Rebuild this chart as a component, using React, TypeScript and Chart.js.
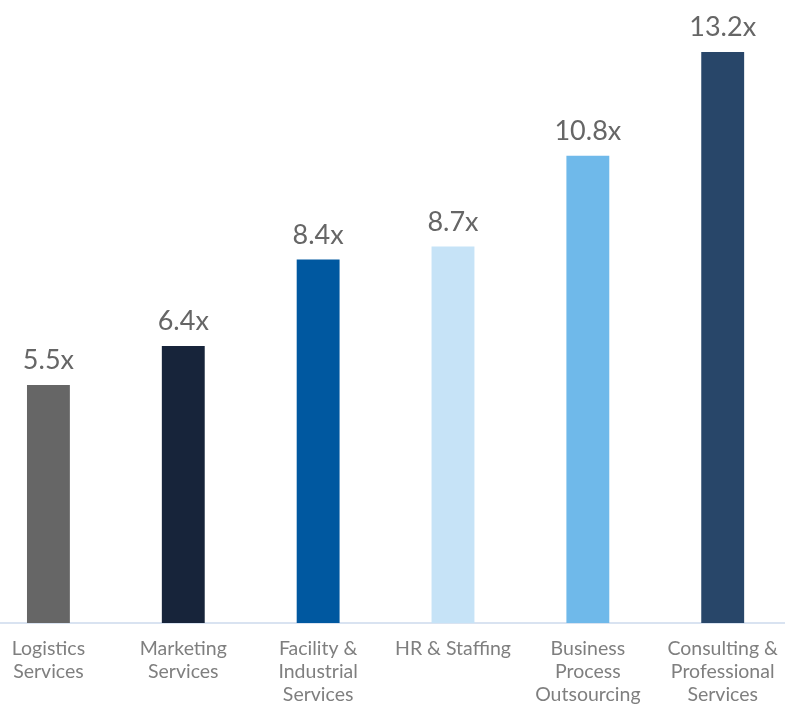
import React, { useEffect, useRef } from "react";
import { Chart, registerables } from "chart.js";

Chart.register(...registerables);

const categories: string[][] = [
  ["Logistics", "Services"],
  ["Marketing", "Services"],
  ["Facility &", "Industrial", "Services"],
  ["HR & Staffing"],
  ["Business", "Process", "Outsourcing"],
  ["Consulting &", "Professional", "Services"],
];
const multiples: number[] = [5.5, 6.4, 8.4, 8.7, 10.8, 13.2];
const barColors: string[] = ["#666666", "#17243a", "#0058a0", "#c6e3f7", "#6fb9ea", "#284669"];

const FONT = "Lato, 'Open Sans', sans-serif";

const valueLabelPlugin = {
  id: "valueLabels",
  afterDatasetsDraw(chart: any) {
    const ctx = chart.ctx;
    const meta = chart.getDatasetMeta(0);
    ctx.save();
    ctx.fillStyle = "#666666";
    ctx.font = `27px ${FONT}`;
    ctx.textAlign = "center";
    ctx.textBaseline = "alphabetic";
    meta.data.forEach((el: any, i: number) => {
      ctx.fillText(multiples[i].toFixed(1) + "x", el.x, el.y - 16);
    });
    ctx.restore();
  },
};

export default function App() {
  const ref = useRef<HTMLCanvasElement>(null);
  useEffect(() => {
    if (!ref.current) return;
    const chart = new Chart(ref.current, {
      type: "bar",
      data: {
        labels: categories,
        datasets: [
          {
            data: multiples,
            backgroundColor: barColors,
            barPercentage: 0.318,
            categoryPercentage: 1,
          },
        ],
      },
      options: {
        animation: false,
        responsive: true,
        maintainAspectRatio: false,
        layout: { padding: 0 },
        plugins: { legend: { display: false }, tooltip: { enabled: false } },
        scales: {
          x: {
            grid: { display: false, drawTicks: false },
            border: { display: true, color: "#d9e3f1", width: 2 },
            ticks: {
              color: "#7f7f7f",
              font: { family: FONT, size: 19.5, lineHeight: 1.18 },
              padding: 14,
              maxRotation: 0,
              autoSkip: false,
            },
            afterFit: (axis: any) => {
              axis.height = 81;
            },
          },
          y: {
            display: false,
            min: 0,
            max: 14.4,
          },
        },
      },
      plugins: [valueLabelPlugin],
    });
    return () => chart.destroy();
  }, []);
  return (
    <div style={{ position: "fixed", inset: 0, overflow: "hidden", background: "#fff" }}>
      <div style={{ position: "absolute", left: -19, top: 0, width: 811, height: 704 }}>
        <canvas ref={ref} />
      </div>
    </div>
  );
}
